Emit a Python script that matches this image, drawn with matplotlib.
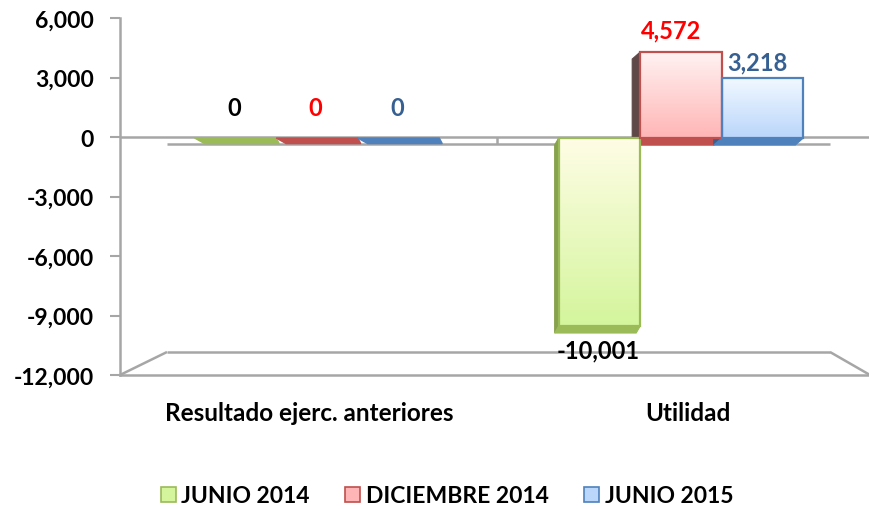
import numpy as np
import matplotlib
matplotlib.use('Agg')
import matplotlib.pyplot as plt
import matplotlib.transforms as mtransforms
from matplotlib.patches import Rectangle, Polygon
from matplotlib.colors import LinearSegmentedColormap

plt.rcParams['font.family'] = ['Lato', 'DejaVu Sans']
plt.rcParams['font.weight'] = 'bold'

# Datos
categorias = ['Resultado ejerc. anteriores', 'Utilidad']
series = ['JUNIO 2014', 'DICIEMBRE 2014', 'JUNIO 2015']
junio_2014 = [0, -10001]
diciembre_2014 = [0, 4572]
junio_2015 = [0, 3218]
valores = [junio_2014, diciembre_2014, junio_2015]

# Estilos por serie: (arriba, abajo, borde, lateral, color etiqueta)
estilos = [
    ('#fffde6', '#d4f59c', '#9bbb59', '#86a24c', '#000000'),
    ('#fff2f2', '#ffb5b5', '#c0504d', '#5e4848', '#ff0000'),
    ('#f2f9ff', '#bad6fb', '#4f81bd', '#3d5f8a', '#376092'),
]
# desplazamiento del lateral 3D (px) y del texto (pt) por serie
lateral_px = [-4, -8, -8]
texto_off = [(-1, -9), (-7, 8), (-4, 3)]

W, H = 870, 510
fig = plt.figure(figsize=(W / 100, H / 100), dpi=100)
pos = [120 / W, 1 - 376 / H, 750 / W, 357 / H]
ax = fig.add_axes(pos)
x_min, x_max = -0.541, (870 - 317) / 364
ax.set_xlim(x_min, x_max)
ax.set_ylim(-12000, 6000)

# eje de las barras (plano frontal en perspectiva)
axb = fig.add_axes(pos, sharex=ax)
axb.set_ylim(-12606, 6383)
axb.axis('off')
axb.patch.set_visible(False)

px_x = (x_max - x_min) / 750
px_y = 18000 / 357
pxb_y = (6383 + 12606) / 357

def px(x, y):
    return x_min + (x - 120) * px_x, -(y - 138) * px_y

ancho = 0.224
x = np.arange(len(categorias))
dy = -7 * pxb_y

for i, (vals, est) in enumerate(zip(valores, estilos)):
    top_c, bot_c, edge, side, lab_c = est
    dx = lateral_px[i] * px_x
    cmap = LinearSegmentedColormap.from_list('g%d' % i, [top_c, bot_c])
    for j, v in enumerate(vals):
        x0 = x[j] + (i - 1) * ancho - ancho / 2
        x1 = x0 + ancho
        if v == 0:
            slab = Polygon([(x0, 0), (x1, 0), (x1 + 3 * px_x, dy * 0.8), (x0 + 10 * px_x, dy * 0.8)],
                           closed=True, facecolor=edge, edgecolor=edge, lw=1, zorder=2)
            axb.add_patch(slab)
        else:
            lo, hi = min(v, 0), max(v, 0)
            lado = Polygon([(x0, hi), (x0, lo), (x0 + dx, lo + dy), (x0 + dx, hi + dy)],
                           closed=True, facecolor=side, edgecolor=side, lw=0.8, zorder=2)
            axb.add_patch(lado)
            base = Polygon([(x0, lo), (x1, lo), (x1 + dx, lo + dy), (x0 + dx, lo + dy)],
                           closed=True, facecolor=edge, edgecolor=edge, lw=0.8, zorder=2)
            axb.add_patch(base)
            rect = Rectangle((x0, lo), ancho, hi - lo, facecolor='none',
                             edgecolor=edge, lw=1.6, zorder=4)
            axb.add_patch(rect)
            grad = np.linspace(0, 1, 256).reshape(-1, 1)
            im = axb.imshow(grad, cmap=cmap, aspect='auto', extent=(x0, x1, lo, hi),
                            origin='upper', zorder=3)
            im.set_clip_path(rect)
        xc = x0 + ancho / 2
        if v == 0:
            axb.annotate('0', (xc, 0), xytext=(-1, 14), textcoords='offset points',
                         ha='center', va='bottom', fontsize=17, color=lab_c,
                         fontweight='bold', zorder=6)
        elif v > 0:
            axb.annotate(f'{v:,}', (xc, v), xytext=texto_off[i],
                         textcoords='offset points', ha='center', va='bottom',
                         fontsize=17, color=lab_c, fontweight='bold', zorder=6)
        else:
            axb.annotate(f'{v:,}', (xc, v), xytext=texto_off[i], textcoords='offset points',
                         ha='center', va='top', fontsize=17, color=lab_c,
                         fontweight='bold', zorder=6)
axb.set_xlim(x_min, x_max)

# lineas del piso 3D
gris = '#a6a6a6'
ax.axhline(0, color=gris, lw=1.8, zorder=1)
for (xa, ya), (xb, yb) in [((167, 145), (830, 145)),
                           ((120, 376), (167, 353)),
                           ((167, 353), (830, 353)),
                           ((830, 353), (870, 376)),
                           ((497, 138), (497, 145))]:
    p1, p2 = px(xa, ya), px(xb, yb)
    ax.plot([p1[0], p2[0]], [p1[1], p2[1]], color=gris, lw=1.8, zorder=1,
            clip_on=False, solid_capstyle='butt')

for s in ['top', 'right']:
    ax.spines[s].set_visible(False)
for s in ['left', 'bottom']:
    ax.spines[s].set_color(gris)
    ax.spines[s].set_linewidth(1.8)

ax.set_yticks(np.arange(-12000, 6001, 3000))
ax.set_yticklabels([f'{t:,}' for t in range(-12000, 6001, 3000)])
ax.tick_params(axis='y', length=7, width=1.5, color=gris, labelsize=16.5, pad=12)
ax.set_xticks(x)
ax.set_xticklabels(categorias)
ax.tick_params(axis='x', length=0, labelsize=17.5, pad=19)
# pequeno corrimiento por la perspectiva
for lab, dpx in zip(ax.get_xticklabels(), [-8, 7]):
    lab.set_transform(lab.get_transform() +
                      mtransforms.ScaledTranslation(dpx / 100, 0, fig.dpi_scale_trans))

# leyenda
handles = [Rectangle((0, 0), 1, 1, facecolor=e[1], edgecolor=e[2], lw=1.2) for e in estilos]
fig.legend(handles, series, loc='center', bbox_to_anchor=(0.514, 1 - 497 / H), ncol=3,
           frameon=False, handlelength=0.65, handleheight=0.65,
           handletextpad=0.25, columnspacing=1.55, prop={'weight': 'bold', 'size': 16.5})

fig.savefig('out.png', dpi=100)
